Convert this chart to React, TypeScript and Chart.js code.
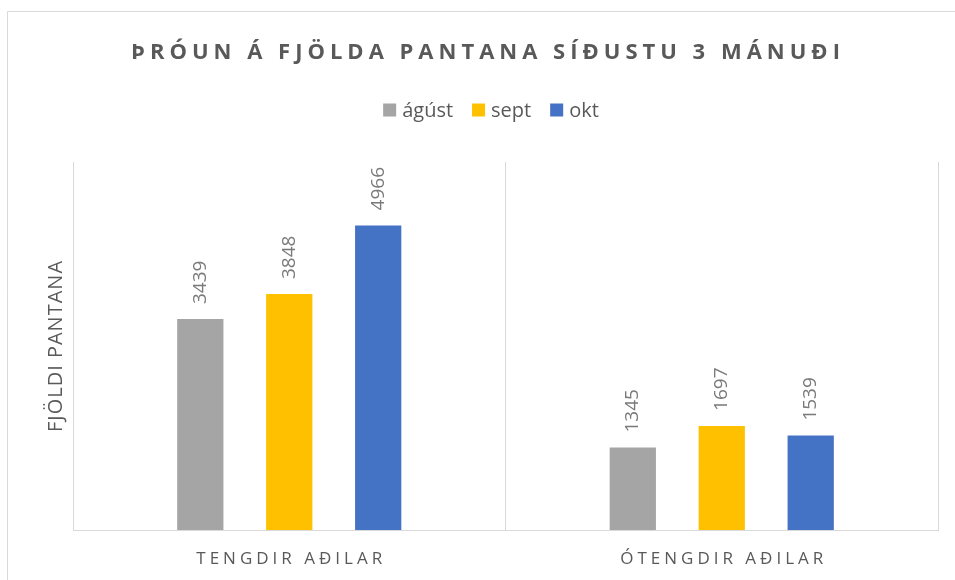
import React, { useEffect, useRef } from "react";
import { Chart, registerables } from "chart.js";

Chart.register(...registerables);

const TITLE = "ÞRÓUN Á FJÖLDA PANTANA SÍÐUSTU 3 MÁNUÐI";
const Y_TITLE = "FJÖLDI PANTANA";
const categories = ["TENGDIR AÐILAR", "ÓTENGDIR AÐILAR"];
const seriesNames = ["ágúst", "sept", "okt"];
const agust = [3439, 1345];
const sept = [3848, 1697];
const okt = [4966, 1539];
const seriesColors = ["#A5A5A5", "#FFC000", "#4472C4"];
const Y_MIN = 0;
const Y_MAX = 6000;

const TEXT = "#595959";
const LINE = "#D9D9D9";

const drawPlugin = {
  id: "officeDecor",
  beforeDraw(chart: any) {
    const ctx = chart.ctx as CanvasRenderingContext2D;
    ctx.save();
    ctx.fillStyle = "#FFFFFF";
    ctx.fillRect(0, 0, chart.width, chart.height);
    ctx.strokeStyle = LINE;
    ctx.lineWidth = 1;
    ctx.beginPath();
    ctx.moveTo(7.5, chart.height);
    ctx.lineTo(7.5, 11.5);
    ctx.lineTo(chart.width, 11.5);
    ctx.stroke();
    ctx.restore();
  },
  afterDraw(chart: any) {
    const ctx = chart.ctx as CanvasRenderingContext2D;
    const area = chart.chartArea;

    // title
    ctx.save();
    ctx.fillStyle = TEXT;
    ctx.font = "bold 22px 'Open Sans'";
    (ctx as any).letterSpacing = "5px";
    ctx.textAlign = "center";
    ctx.textBaseline = "alphabetic";
    ctx.fillText(TITLE, 488, 59);
    ctx.restore();

    // legend
    ctx.save();
    ctx.font = "20px 'Open Sans'";
    ctx.textBaseline = "middle";
    ctx.textAlign = "left";
    const box = 13;
    const gapBoxText = 6;
    const gapItems = 19;
    const widths = seriesNames.map((n) => ctx.measureText(n).width);
    const total =
      widths.reduce((a, b) => a + b, 0) +
      seriesNames.length * (box + gapBoxText) +
      (seriesNames.length - 1) * gapItems;
    let lx = 491 - total / 2;
    const ly = 110;
    seriesNames.forEach((n, i) => {
      ctx.fillStyle = seriesColors[i];
      ctx.fillRect(lx, ly - box / 2, box, box);
      lx += box + gapBoxText;
      ctx.fillStyle = TEXT;
      ctx.fillText(n, lx, ly + 1);
      lx += widths[i] + gapItems;
    });
    ctx.restore();

    // y axis title
    ctx.save();
    ctx.fillStyle = TEXT;
    ctx.font = "20px 'Open Sans'";
    (ctx as any).letterSpacing = "1px";
    ctx.translate(56, (area.top + area.bottom) / 2);
    ctx.rotate(-Math.PI / 2);
    ctx.textAlign = "center";
    ctx.textBaseline = "middle";
    ctx.fillText(Y_TITLE, 0, 0);
    ctx.restore();

    // category labels
    const xs = chart.scales.x;
    ctx.save();
    ctx.fillStyle = TEXT;
    ctx.font = "17px 'Open Sans'";
    (ctx as any).letterSpacing = "4px";
    ctx.textAlign = "center";
    ctx.textBaseline = "alphabetic";
    categories.forEach((c, i) => {
      ctx.fillText(c, xs.getPixelForValue(i) + 2, 564);
    });
    ctx.restore();

    // data labels
    ctx.save();
    ctx.fillStyle = "#7A7A7A";
    ctx.font = "19px 'Open Sans'";
    ctx.textAlign = "left";
    ctx.textBaseline = "middle";
    chart.data.datasets.forEach((ds: any, di: number) => {
      const meta = chart.getDatasetMeta(di);
      meta.data.forEach((el: any, i: number) => {
        ctx.save();
        ctx.translate(el.x, el.y - 15);
        ctx.rotate(-Math.PI / 2);
        ctx.fillText(String(ds.data[i]), 0, 0);
        ctx.restore();
      });
    });
    ctx.restore();
  },
};

export default function App() {
  const ref = useRef<HTMLCanvasElement | null>(null);

  useEffect(() => {
    document.body.style.margin = "0";
    const canvas = ref.current;
    if (!canvas) return;
    const seriesData = [agust, sept, okt];
    const chart = new Chart(canvas, {
      type: "bar",
      data: {
        labels: categories,
        datasets: seriesNames.map((n, i) => ({
          label: n,
          data: seriesData[i],
          backgroundColor: seriesColors[i],
          borderWidth: 0,
          categoryPercentage: 0.617,
          barPercentage: 0.52,
        })),
      },
      options: {
        responsive: false,
        animation: false,
        devicePixelRatio: 1,
        layout: { padding: { top: 162, left: 73, right: 17, bottom: 50 } },
        plugins: {
          legend: { display: false },
          title: { display: false },
          tooltip: { enabled: false },
        },
        scales: {
          x: {
            display: true,
            ticks: { display: false },
            grid: {
              display: true,
              offset: true,
              drawTicks: false,
              color: LINE,
              lineWidth: 1,
            },
            border: { display: true, color: LINE, width: 1 },
          },
          y: {
            display: false,
            min: Y_MIN,
            max: Y_MAX,
          },
        },
      },
      plugins: [drawPlugin],
    });
    return () => chart.destroy();
  }, []);

  return (
    <div style={{ width: 955, height: 580 }}>
      <canvas ref={ref} width={955} height={580} />
    </div>
  );
}
